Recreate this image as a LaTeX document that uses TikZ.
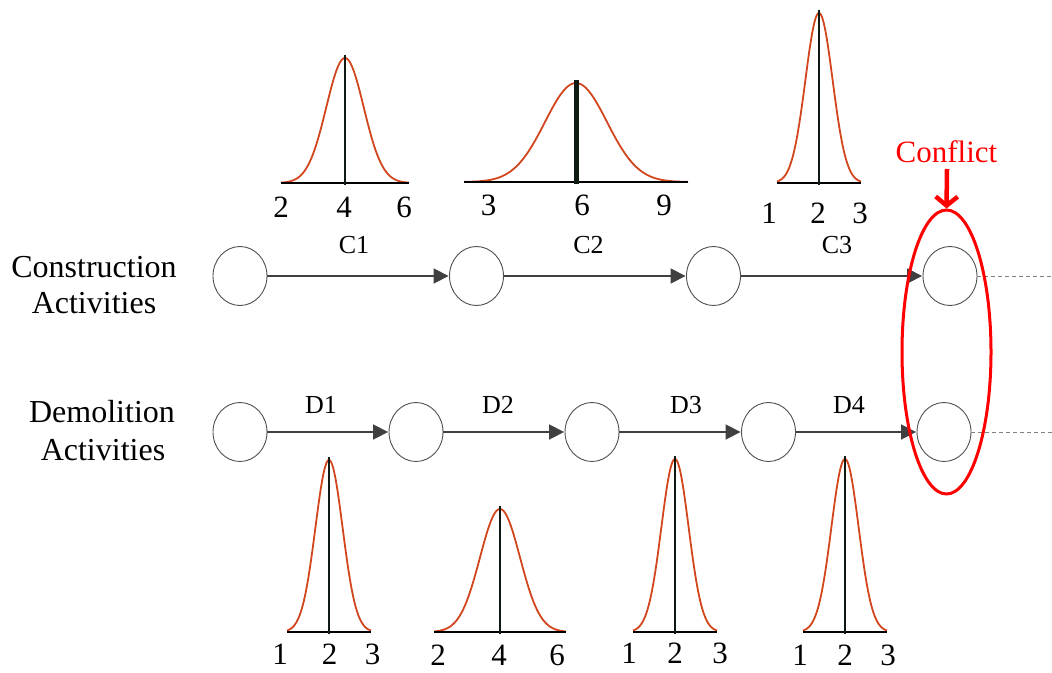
\documentclass[tikz,border=0pt]{standalone}
\usepackage{fontspec}
\setmainfont{Liberation Serif}
\usetikzlibrary{arrows.meta,shapes.geometric}
\definecolor{curvecol}{HTML}{D2461E}
\definecolor{arrcol}{HTML}{404040}
\definecolor{axiscol}{HTML}{0E1A12}
\definecolor{circcol}{HTML}{505050}
\tikzset{
  evnode/.style={draw=circcol, line width=0.9pt, ellipse, minimum width=54pt, minimum height=59pt, inner sep=0pt},
  actarrow/.style={draw=arrcol, line width=1.8pt, -{Triangle[length=15pt,width=15pt]}, shorten >=0.5pt},
  contline/.style={draw=gray, line width=0.8pt, dash pattern=on 4pt off 3pt},
  curveline/.style={draw=curvecol, line width=1.8pt},
  axisline/.style={draw=black, line width=2.4pt},
  peakline/.style={draw=axiscol},
  rowlabel/.style={font=\fontsize{32}{36}\selectfont, anchor=base, inner sep=0pt},
  actlabel/.style={font=\fontsize{26}{30}\selectfont, anchor=base, inner sep=0pt},
  ticklabel/.style={font=\fontsize{31}{36}\selectfont, anchor=base, inner sep=0pt},
  conflictcol/.style={red, line width=3pt}
}
\newcommand{\gausscurve}[6]{%
  \draw[curveline] plot[domain=-#5:#5,samples=91,smooth] ({#1+\x},{#2-#3*exp(-0.5*(\x/#4)*(\x/#4))});
  \draw[axisline] ({#1-#5},#2) -- ({#1+#5},#2);
  \draw[peakline, line width=#6] (#1,{#2+2}) -- (#1,{#2-#3-3});
}
\begin{document}
\begin{tikzpicture}[x=1pt,y=-1pt]
\useasboundingbox (0,0) rectangle (1052,672);

% row labels
\node[rowlabel] (cl1) at (94,277) {Construction};
\node[rowlabel] (cl2) at (94,313) {Activities};
\node[rowlabel] (dl1) at (102,422) {Demolition};
\node[rowlabel] (dl2) at (103,460) {Activities};

% construction events
\node[evnode] (c0) at (240,276) {};
\node[evnode] (c1) at (476.5,276) {};
\node[evnode] (c2) at (713.5,276) {};
\node[evnode] (c3) at (950,276) {};
% demolition events
\node[evnode] (d0) at (240,432) {};
\node[evnode] (d1) at (416,432) {};
\node[evnode] (d2) at (592,432) {};
\node[evnode] (d3) at (768.5,432) {};
\node[evnode] (d4) at (944,432) {};

\coordinate (ce) at (1052,276);
\coordinate (de) at (1052,432);

\draw[actarrow] (c0) -- (c1);
\draw[actarrow] (c1) -- (c2);
\draw[actarrow] (c2) -- (c3);
\draw[actarrow] (d0) -- (d1);
\draw[actarrow] (d1) -- (d2);
\draw[actarrow] (d2) -- (d3);
\draw[actarrow] (d3) -- (d4);
\draw[contline] (c3) -- (ce);
\draw[contline] (d4) -- (de);

% activity labels
\node[actlabel] (lc1) at (354,253) {C1};
\node[actlabel] (lc2) at (588.5,253) {C2};
\node[actlabel] (lc3) at (837,253) {C3};
\node[actlabel] (ld1) at (321,413) {D1};
\node[actlabel] (ld2) at (498,413) {D2};
\node[actlabel] (ld3) at (686,413) {D3};
\node[actlabel] (ld4) at (849,413) {D4};

% distributions (construction)
\gausscurve{345}{183}{125}{18.7}{64}{2.4pt}
\node[ticklabel] (t11) at (281,217) {2};
\node[ticklabel] (t12) at (344,217) {4};
\node[ticklabel] (t13) at (404,217) {6};

\gausscurve{576}{182}{99}{31}{112}{5pt}
\node[ticklabel] (t21) at (488.5,215) {3};
\node[ticklabel] (t22) at (582,215) {6};
\node[ticklabel] (t23) at (664,215) {9};

\gausscurve{819}{183}{170}{13.6}{42}{1.6pt}
\node[ticklabel] (t31) at (769,223) {1};
\node[ticklabel] (t32) at (818,223) {2};
\node[ticklabel] (t33) at (860,223) {3};

% distributions (demolition)
\gausscurve{329}{632}{172}{13.6}{42}{1.6pt}
\node[ticklabel] (u11) at (280,664) {1};
\node[ticklabel] (u12) at (329.5,664) {2};
\node[ticklabel] (u13) at (372.5,664) {3};

\gausscurve{500}{632}{123}{20}{66}{2.4pt}
\node[ticklabel] (u21) at (438,665) {2};
\node[ticklabel] (u22) at (499,665) {4};
\node[ticklabel] (u23) at (557,665) {6};

\gausscurve{675}{632}{173}{13.6}{42}{1.6pt}
\node[ticklabel] (u31) at (629,663) {1};
\node[ticklabel] (u32) at (675,663) {2};
\node[ticklabel] (u33) at (720,663) {3};

\gausscurve{845}{632}{173}{13.6}{42}{1.6pt}
\node[ticklabel] (u41) at (800,665) {1};
\node[ticklabel] (u42) at (845,665) {2};
\node[ticklabel] (u43) at (888,665) {3};

% conflict
\node[conflictcol, draw, ellipse, minimum width=89pt, minimum height=284pt, inner sep=0pt] (cf) at (946.5,352) {};
\node[ticklabel, text=red] (cft) at (946.5,162) {Conflict};
\coordinate (cfa) at (947,169);
\draw[red, line width=4.5pt, -{Straight Barb[length=9pt,width=22pt]}] (cfa) -- (cf.north);
\end{tikzpicture}
\end{document}
